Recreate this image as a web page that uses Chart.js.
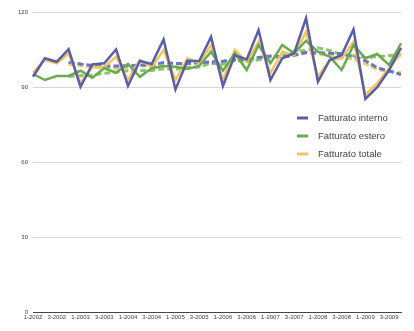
<!DOCTYPE html>
<html>
<head>
<meta charset="utf-8">
<script src="https://cdn.jsdelivr.net/npm/chart.js@4/dist/chart.umd.min.js"></script>
<style>
  html, body { margin: 0; padding: 0; background: #fff; }
  #wrap { width: 414px; height: 331px; }
</style>
</head>
<body>
<div id="wrap"><canvas id="myChart"></canvas></div>
<script>
"use strict";

// quarters 2002 - 2009
const quarters = [
  "1-2002", "2-2002", "3-2002", "4-2002",
  "1-2003", "2-2003", "3-2003", "4-2003",
  "1-2004", "2-2004", "3-2004", "4-2004",
  "1-2005", "2-2005", "3-2005", "4-2005",
  "1-2006", "2-2006", "3-2006", "4-2006",
  "1-2007", "2-2007", "3-2007", "4-2007",
  "1-2008", "2-2008", "3-2008", "4-2008",
  "1-2009", "2-2009", "3-2009", "4-2009",
];
const seriesNames = ["Fatturato interno", "Fatturato estero", "Fatturato totale"];
const yTicks = [0, 30, 60, 90, 120];

const interno = [94.1, 101.5, 100.1, 105.1, 90.1, 99.0, 99.5, 105.0, 90.4, 100.4, 99.2, 109.0, 89.0, 100.5, 100.4, 110.0,
  90.4, 102.8, 101.0, 112.8, 92.8, 101.5, 103.5, 117.5, 92.1, 100.8, 102.8, 113.0, 85.2, 89.9, 96.8, 105.7];
const estero = [95.2, 92.8, 94.4, 94.4, 96.5, 93.7, 97.5, 95.7, 99.2, 94.1, 97.5, 98.4, 98.1, 97.2, 98.4, 104.1,
  96.5, 103.5, 96.8, 106.8, 99.5, 106.8, 103.5, 108.5, 104.1, 102.1, 96.8, 106.8, 101.5, 103.2, 98.8, 107.5];
const totale = [95.7, 100.8, 99.5, 103.5, 91.5, 98.0, 98.0, 102.1, 92.8, 100.8, 98.0, 104.8, 92.8, 101.5, 99.5, 106.8,
  92.8, 104.8, 100.1, 108.1, 95.5, 104.1, 102.8, 112.1, 94.1, 100.8, 101.5, 108.1, 86.8, 91.5, 97.5, 103.5];

// dashed trend lines (4 quarters moving average as seen in the picture)
const trendInterno = [null, null, null, 99.9, 99.2, 98.6, 98.4, 98.4, 98.5, 98.8, 98.8, 99.8, 99.4, 99.4, 99.7, 100.0,
  100.3, 100.9, 101.0, 101.8, 102.4, 102.0, 102.7, 103.8, 103.7, 103.5, 103.3, 102.2, 100.5, 97.7, 96.4, 95.0];
const trendEstero = [null, null, null, 94.2, 94.5, 94.8, 95.5, 95.9, 96.5, 96.6, 96.6, 97.3, 97.0, 97.8, 98.0, 99.5,
  99.1, 100.6, 100.2, 100.9, 101.7, 102.5, 104.2, 104.6, 105.7, 104.6, 102.9, 102.5, 101.8, 102.1, 102.6, 102.8];
const trendTotale = [null, null, null, 99.0, 98.6, 98.1, 97.8, 97.4, 97.7, 98.4, 98.4, 99.1, 99.1, 99.3, 99.7, 100.2,
  100.2, 101.0, 101.1, 101.5, 102.1, 102.0, 102.6, 103.6, 103.3, 102.5, 102.1, 101.1, 99.3, 97.0, 96.2, 95.8];

const solidColors = ["#5a5ea8", "#6aab50", "#f2c45e"];
const dashColors = ["#6676cc", "#8cc66c", "#f3c866"];

function solid(label, data, color) {
  return {
    label: label, data: data, borderColor: color, backgroundColor: color,
    borderWidth: 2.5, pointRadius: 0, tension: 0, fill: false,
  };
}
function dashed(data, color) {
  return {
    label: "", data: data, borderColor: color, backgroundColor: color,
    borderWidth: 3, borderDash: [6, 3], pointRadius: 0, tension: 0, fill: false, spanGaps: false,
  };
}

// legend drawn over the plot, right side
const sideLegend = {
  id: "sideLegend",
  afterDraw(chart) {
    const ctx = chart.ctx;
    ctx.save();
    ctx.font = "9.5px 'Liberation Sans', Arial, sans-serif";
    ctx.textBaseline = "middle";
    for (let i = 0; i < 3; i++) {
      const y = 118 + i * 18;
      ctx.strokeStyle = solidColors[i];
      ctx.lineWidth = 3;
      ctx.beginPath();
      ctx.moveTo(297, y);
      ctx.lineTo(308, y);
      ctx.stroke();
      ctx.fillStyle = "#444";
      ctx.fillText(seriesNames[i], 318, y);
    }
    ctx.restore();
  },
};

const data = {
  labels: quarters,
  datasets: [
    solid(seriesNames[0], interno, solidColors[0]),
    solid(seriesNames[1], estero, solidColors[1]),
    solid(seriesNames[2], totale, solidColors[2]),
    dashed(trendInterno, dashColors[0]),
    dashed(trendEstero, dashColors[1]),
    dashed(trendTotale, dashColors[2]),
  ],
};

const config = {
  type: "line",
  data: data,
  plugins: [sideLegend],
  options: {
    responsive: true,
    maintainAspectRatio: false,
    animation: false,
    layout: { padding: { left: 3, right: 13, top: 12, bottom: 4 } },
    plugins: { legend: { display: false }, tooltip: { enabled: false } },
    scales: {
      x: {
        offset: false,
        grid: { display: false, drawTicks: false },
        border: { display: true, color: "#444", width: 1 },
        ticks: {
          autoSkip: false, maxRotation: 0, padding: 2,
          font: { size: 6, family: "'Liberation Sans', Arial, sans-serif" }, color: "#444",
          callback: function (val, i) { return i % 2 === 0 ? quarters[i] : ""; },
        },
        afterFit: function (scale) { scale.height = 15; },
      },
      y: {
        min: 0, max: 120,
        afterBuildTicks: function (scale) { scale.ticks = yTicks.map(function (v) { return { value: v }; }); },
        grid: { color: "#d6d6d6", lineWidth: 1, drawTicks: false },
        border: { display: false },
        ticks: {
          padding: 5,
          font: { size: 6, family: "'Liberation Sans', Arial, sans-serif" }, color: "#444",
        },
        afterFit: function (scale) { scale.width = 30; },
      },
    },
  },
};

const myChart = new Chart(document.getElementById("myChart"), config);
</script>
</body>
</html>
